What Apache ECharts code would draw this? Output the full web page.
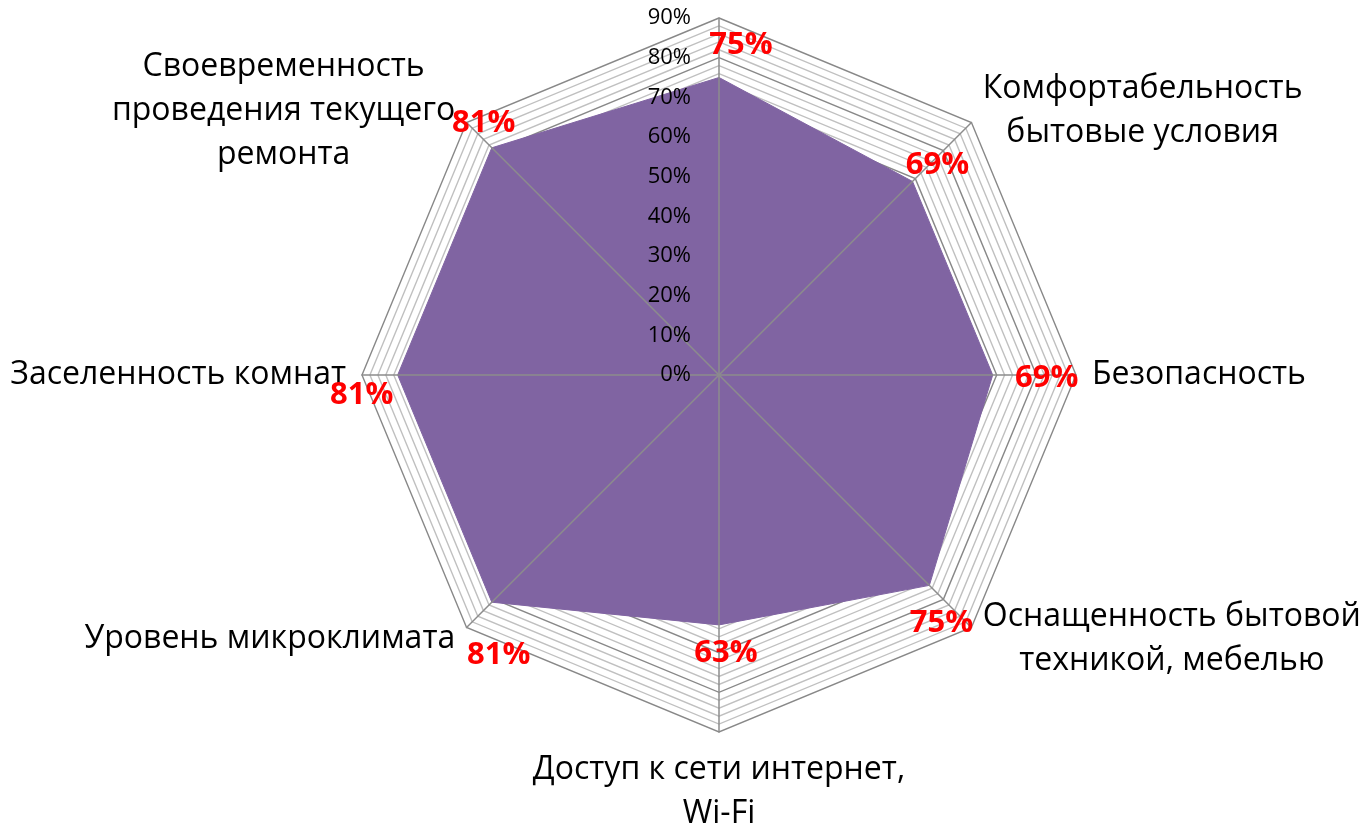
<!DOCTYPE html>
<html>
<head>
<meta charset="utf-8">
<script src="https://cdn.jsdelivr.net/npm/echarts@6/dist/echarts.min.js"></script>
<style>
  html, body { margin: 0; padding: 0; background: #fff; }
  #chart { width: 1359px; height: 826px; }
</style>
</head>
<body>
<div id="chart"></div>
<script>
// ECharts lays radar indicators out counter-clockwise starting from the top
const indicatorNames = [
  '',
  'Своевременность\nпроведения текущего\nремонта',
  'Заселенность комнат',
  'Уровень микроклимата',
  'Доступ к сети интернет,\nWi-Fi',
  'Оснащенность бытовой\nтехникой, мебелью',
  'Безопасность',
  'Комфортабельность\nбытовые условия'
]
const scores = [75, 81, 81, 81, 63, 75, 69, 69]
const axisMin = 0
const axisMax = 90
const majorStep = 10
const minorStep = 2

// where the red value labels sit relative to their vertex (px)
const labelNudges = [[22, -32], [-8, -25], [-36, 20], [7, 53], [7, 28], [12, 38], [54, 3], [25, -16]]

const FONT = '"Open Sans", "Noto Sans", sans-serif'
const CENTER = [719, 375]
const RADIUS = 357
const splitCount = (axisMax - axisMin) / minorStep

const chart = echarts.init(document.getElementById('chart'), null, { renderer: 'canvas' })

const baseIndicators = indicatorNames.map(name => ({ name, min: axisMin, max: axisMax }))

const option = {
  animation: false,
  backgroundColor: '#fff',
  radar: [
    {
      // rings + names, below the filled area
      z: 0,
      center: CENTER,
      radius: RADIUS,
      startAngle: 90,
      shape: 'polygon',
      splitNumber: splitCount,
      indicator: baseIndicators,
      nameGap: 16,
      axisName: {
        show: true,
        color: '#000',
        fontSize: 32,
        fontFamily: FONT,
        lineHeight: 44,
        formatter: name => name ? name.split('\n').map(l => '{c|' + l + '}').join('\n') : '',
        rich: {
          c: { align: 'center', color: '#000', fontSize: 32, fontFamily: FONT, lineHeight: 44 }
        }
      },
      axisLine: { show: false },
      axisTick: { show: false },
      axisLabel: { show: false },
      splitArea: { show: false },
      splitLine: {
        show: true,
        lineStyle: { color: ['#888888', '#c0c0c0', '#c0c0c0', '#c0c0c0', '#c0c0c0'], width: 1.4 }
      }
    },
    {
      // spokes + tick labels, above the filled area
      z: 3,
      center: CENTER,
      radius: RADIUS,
      startAngle: 90,
      shape: 'polygon',
      splitNumber: splitCount,
      indicator: baseIndicators.map((ind, i) =>
        i === 0 ? { name: '', min: ind.min, max: ind.max, axisLabel: { show: true } } : { name: '', min: ind.min, max: ind.max }
      ),
      axisName: { show: false },
      axisLine: { show: true, lineStyle: { color: '#8c8c8c', width: 1.5 } },
      axisTick: { show: false },
      splitLine: { show: false },
      splitArea: { show: false },
      axisLabel: {
        show: false,
        color: '#000',
        fontSize: 22,
        fontFamily: FONT,
        margin: 28,
        formatter: v => {
          const r = Math.round(v)
          return r % majorStep === 0 ? r + '%' : ''
        }
      }
    }
  ],
  series: [
    {
      type: 'radar',
      radarIndex: 0,
      z: 2,
      silent: true,
      symbol: 'none',
      data: [
        {
          value: scores,
          lineStyle: { color: '#8064A2', width: 1 },
          areaStyle: { color: '#8064A2', opacity: 1 }
        }
      ]
    },
    {
      // one invisible item per vertex so each value label can be placed on its own
      type: 'radar',
      radarIndex: 0,
      z: 5,
      silent: true,
      symbol: 'circle',
      symbolSize: 1,
      itemStyle: { color: 'rgba(0,0,0,0)' },
      lineStyle: { width: 0, opacity: 0 },
      data: scores.map((s, k) => ({
        value: scores.map((v, i) => (i === k ? v : 0)),
        label: {
          show: true,
          position: 'inside',
          offset: labelNudges[k],
          color: '#ff0000',
          fontWeight: 'bold',
          fontSize: 31,
          fontFamily: FONT,
          formatter: p => (p.value > 0 ? p.value + '%' : '')
        }
      }))
    }
  ]
}

chart.setOption(option)
</script>
</body>
</html>
